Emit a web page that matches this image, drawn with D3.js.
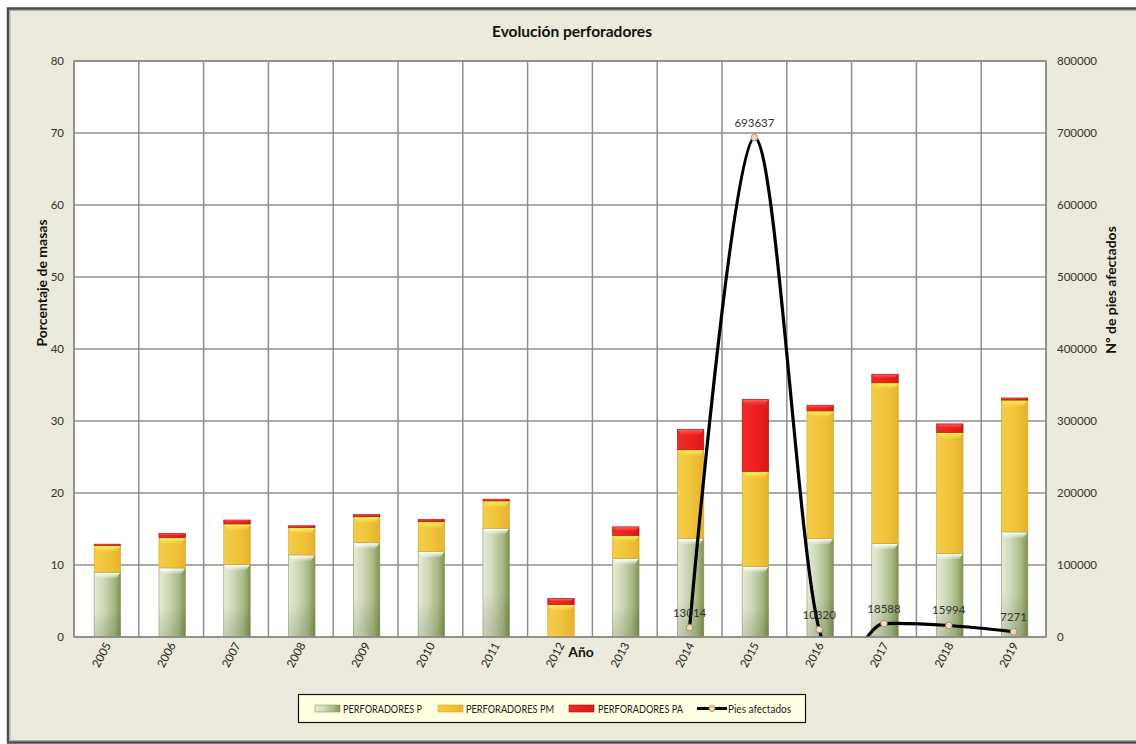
<!DOCTYPE html>
<html><head><meta charset="utf-8">
<script src="https://cdn.jsdelivr.net/npm/d3@7"></script>
<style>body{margin:0;background:#fff;} svg{display:block;font-family:Lato,"Open Sans",sans-serif;}</style>
</head><body>
<svg id="c" width="1136" height="744"></svg>
<script>
const years = ["2005","2006","2007","2008","2009","2010","2011","2012","2013","2014","2015","2016","2017","2018","2019"];
const perfP  = [9.0, 9.6, 10.1, 11.4, 13.1, 11.9, 15.1, 0,   10.9, 13.7, 9.8, 13.7, 13.0, 11.6, 14.6];
const perfPM = [3.7, 4.2, 5.6,  3.8,  3.6,  4.1,  3.8,  4.5, 3.2,  12.3, 13.2,17.7, 22.3, 16.8, 18.3];
const perfPA = [0.2, 0.6, 0.55, 0.25, 0.3,  0.35, 0.25, 0.85,1.2,  2.85, 10.0,0.8,  1.2,  1.2,  0.3];
const piesYears = ["2014","2015","2016","2017","2018","2019"];
const pies = [13014, 693637, 10320, 18588, 15994, 7271];
const leftTicks = [0,10,20,30,40,50,60,70,80];
const rightTicks = [0,100000,200000,300000,400000,500000,600000,700000,800000];
const seriesNames = ["PERFORADORES P","PERFORADORES PM","PERFORADORES PA","Pies afectados"];

const svg = d3.select("#c");
const L = 74, R = 1046, T = 61, B = 637;

// background frame
svg.append("rect").attr("x",0).attr("y",0).attr("width",1136).attr("height",744).attr("fill","#fff");
svg.append("rect").attr("x",8).attr("y",8.5).attr("width",1140).attr("height",734).attr("fill","#ECE9DD").attr("stroke","#4a4a4a").attr("stroke-width",2.5);
svg.append("rect").attr("x",10).attr("y",10.5).attr("width",1140).attr("height",730).attr("fill","none").attr("stroke","#9a9a9a").attr("stroke-width",0.8);

const defs = svg.append("defs");
function hgrad(id, stops){
  const g = defs.append("linearGradient").attr("id",id).attr("x1","0").attr("x2","1").attr("y1","0").attr("y2","0");
  stops.forEach(s=>g.append("stop").attr("offset",s[0]).attr("stop-color",s[1]));
}
function vgrad(id, stops){
  const g = defs.append("linearGradient").attr("id",id).attr("x1","0").attr("x2","0").attr("y1","0").attr("y2","1");
  stops.forEach(s=>g.append("stop").attr("offset",s[0]).attr("stop-color",s[1][0]).attr("stop-opacity",s[1][1]));
}
hgrad("gP", [[0,"#e4ecd6"],[0.35,"#cfdab8"],[0.75,"#a9b984"],[1,"#7e9150"]]);
hgrad("gPM",[[0,"#f3cd4c"],[0.5,"#f1c43a"],[1,"#e6b330"]]);
hgrad("gPA",[[0,"#ee2a2a"],[0.5,"#ee2020"],[1,"#d81818"]]);
vgrad("hiW",[[0,["#ffffff",1]],[1,["#ffffff",0.1]]]);
vgrad("hiY",[[0,["#fff45a",1]],[1,["#f7e04a",0.2]]]);
vgrad("hiR",[[0,["#ff6a6a",0.9]],[1,["#ff4040",0.1]]]);
vgrad("shadeP",[[0,["#000000",0]],[0.6,["#000000",0]],[1,["#3d5020",0.18]]]);

const x = d3.scaleBand().domain(years).range([L,R]).paddingInner(0).paddingOuter(0);
const y = d3.scaleLinear().domain([0,80]).range([B,T]);
const y2 = d3.scaleLinear().domain([0,800000]).range([B,T]);

// plot area
svg.append("rect").attr("x",L).attr("y",T).attr("width",R-L).attr("height",B-T).attr("fill","#fff");
// grid
const grid = svg.append("g").attr("stroke","#8f8f8f").attr("stroke-width",1.5);
leftTicks.forEach(t=>grid.append("line").attr("x1",L).attr("x2",R).attr("y1",y(t)).attr("y2",y(t)));
years.forEach(yr=>grid.append("line").attr("x1",x(yr)).attr("x2",x(yr)).attr("y1",T).attr("y2",B));
grid.append("line").attr("x1",R).attr("x2",R).attr("y1",T).attr("y2",B);

// stacked bars
const bw = 26.5;
const stackData = years.map((yr,i)=>({year:yr, P:perfP[i], PM:perfPM[i], PA:perfPA[i]}));
const stack = d3.stack().keys(["P","PM","PA"])(stackData);
const fills = {P:"url(#gP)", PM:"url(#gPM)", PA:"url(#gPA)"};
const strokes = {P:"#8a9a6a", PM:"#d4a42a", PA:"#b01010"};
const his = {P:"url(#hiW)", PM:"url(#hiY)", PA:"url(#hiR)"};
const bars = svg.append("g");
stack.forEach(layer=>{
  const k = layer.key;
  layer.forEach(d=>{
    const v = d[1]-d[0];
    if (v<=0) return;
    const cx = x(d.data.year)+x.bandwidth()/2+1;
    const x0 = cx-bw/2, yt = y(d[1]), yb = y(d[0]), h = yb-yt;
    bars.append("rect").attr("x",x0).attr("y",yt).attr("width",bw).attr("height",h)
      .attr("fill",fills[k]).attr("stroke",strokes[k]).attr("stroke-width",0.6);
    if (k==="P") bars.append("rect").attr("x",x0).attr("y",yt).attr("width",bw).attr("height",h).attr("fill","url(#shadeP)");
    const hh = Math.min(6, h*0.5);
    bars.append("path").attr("d",`M${x0+0.5},${yt+0.5} L${x0+bw-0.5},${yt+0.5} L${x0+bw-4},${yt+hh} L${x0+4},${yt+hh} Z`)
      .attr("fill",his[k]);
  });
});

// line
defs.append("clipPath").attr("id","plotClip").append("rect").attr("x",L).attr("y",T-20).attr("width",R-L).attr("height",B-T+20);
const lineData = piesYears.map((yr,i)=>({year:yr,v:pies[i]}));
const cxOf = yr => x(yr)+x.bandwidth()/2;
const line = d3.line().x(d=>cxOf(d.year)).y(d=>y2(d.v)).curve(d3.curveCardinal.tension(0));
svg.append("path").datum(lineData).attr("d",line).attr("fill","none").attr("stroke","#000").attr("stroke-width",3.2)
  .attr("clip-path","url(#plotClip)");
const pts = svg.append("g");
lineData.forEach(d=>{
  pts.append("circle").attr("cx",cxOf(d.year)).attr("cy",y2(d.v)).attr("r",3.3).attr("fill","#eedcc0").attr("stroke","#9c7d5c").attr("stroke-width",0.8);
  pts.append("text").attr("x",cxOf(d.year)).attr("y",y2(d.v)-11).attr("text-anchor","middle")
    .attr("font-size",11.5).attr("fill","#333").text(d.v);
});

// axes
const axL = svg.append("g").attr("transform",`translate(${L},0)`).call(d3.axisLeft(y).tickValues(leftTicks).tickSize(0).tickPadding(10));
axL.select(".domain").remove();
axL.selectAll("text").attr("font-size",11.5).attr("fill","#333").attr("font-family","Lato,'Open Sans',sans-serif");
const axR = svg.append("g").attr("transform",`translate(${R},0)`).call(d3.axisRight(y2).tickValues(rightTicks).tickSize(0).tickPadding(11).tickFormat(d3.format("d")));
axR.select(".domain").remove();
axR.selectAll("text").attr("font-size",11.5).attr("fill","#333").attr("font-family","Lato,'Open Sans',sans-serif");
const axB = svg.append("g").attr("transform",`translate(0,${B})`).call(d3.axisBottom(x).tickSize(0).tickPadding(0));
axB.select(".domain").remove();
axB.selectAll("text").attr("font-size",11.5).attr("fill","#222").attr("font-family","Lato,'Open Sans',sans-serif")
  .attr("text-anchor","end").attr("dy",0).attr("transform","translate(5,8) rotate(-62)");
// plot border
svg.append("rect").attr("x",L).attr("y",T).attr("width",R-L).attr("height",B-T).attr("fill","none").attr("stroke","#8a8a8a").attr("stroke-width",1.5);

// titles
svg.append("text").attr("x",572).attr("y",37).attr("text-anchor","middle").attr("font-size",15.5).attr("font-weight","bold").attr("fill","#111").text("Evolución perforadores");
svg.append("text").attr("x",581).attr("y",657).attr("text-anchor","middle").attr("font-size",14).attr("font-weight","bold").attr("fill","#111").text("Año");
svg.append("text").attr("transform","translate(47,283) rotate(-90)").attr("text-anchor","middle").attr("font-size",14).attr("font-weight","bold").attr("fill","#111").text("Porcentaje de masas");
svg.append("text").attr("transform","translate(1116,290) rotate(-90)").attr("text-anchor","middle").attr("font-size",14).attr("font-weight","bold").attr("fill","#111").text("Nº de pies afectados");

// legend
const lg = svg.append("g");
lg.append("rect").attr("x",298.5).attr("y",694.5).attr("width",507).attr("height",28).attr("fill","#FFFFE1").attr("stroke","#111").attr("stroke-width",1.2);
const items = [
  {x:315, fill:"url(#gP)", stroke:"#8a9a6a", tx:343, tl:79},
  {x:438, fill:"url(#gPM)", stroke:"#d4a42a", tx:466, tl:88},
  {x:569, fill:"url(#gPA)", stroke:"#b01010", tx:598, tl:85}
];
items.forEach((it,i)=>{
  lg.append("rect").attr("x",it.x).attr("y",705).attr("width",25).attr("height",7).attr("fill",it.fill).attr("stroke",it.stroke).attr("stroke-width",0.6);
  lg.append("text").attr("x",it.tx).attr("y",712.5).attr("font-size",11.5).attr("fill","#222")
    .attr("textLength",it.tl).attr("lengthAdjust","spacingAndGlyphs").text(seriesNames[i]);
});
lg.append("line").attr("x1",697).attr("x2",727).attr("y1",708.5).attr("y2",708.5).attr("stroke","#000").attr("stroke-width",3);
lg.append("circle").attr("cx",712).attr("cy",708.5).attr("r",3).attr("fill","#eedcc0").attr("stroke","#9c7d5c").attr("stroke-width",0.8);
lg.append("text").attr("x",728).attr("y",712.5).attr("font-size",11.5).attr("fill","#222")
  .attr("textLength",63).attr("lengthAdjust","spacingAndGlyphs").text(seriesNames[3]);
</script>
</body></html>
